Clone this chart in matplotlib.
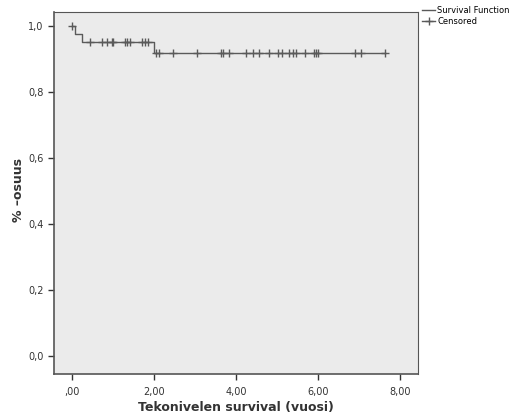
import matplotlib
matplotlib.use("Agg")
import matplotlib.pyplot as plt
from matplotlib.lines import Line2D
from matplotlib.ticker import FixedLocator

# Data
event_times = [0.0, 0.07, 0.25, 2.0]
survival = [1.0, 0.976, 0.952, 0.919]
end_time = 7.63
censor_times = [0.0, 0.44, 0.72, 0.85, 0.97, 1.0, 1.29, 1.34, 1.41, 1.70, 1.78, 1.86,
                2.05, 2.13, 2.46, 3.04, 3.63, 3.68, 3.84, 4.24, 4.42, 4.57, 4.81, 5.03,
                5.11, 5.30, 5.38, 5.46, 5.68, 5.90, 5.95, 6.01, 6.90, 7.04, 7.63]
x_ticks = [0, 2, 4, 6, 8]
x_ticklabels = [",00", "2,00", "4,00", "6,00", "8,00"]
y_ticks = [0.0, 0.2, 0.4, 0.6, 0.8, 1.0]
y_ticklabels = ["0,0", "0,2", "0,4", "0,6", "0,8", "1,0"]

def surv_at(t):
    s = survival[0]
    for et, sv in zip(event_times, survival):
        if t >= et:
            s = sv
    return s

fig = plt.figure(figsize=(5.16, 4.16), dpi=100)
ax = fig.add_axes([54/516, 1-374/416, (418-54)/516, (374-12)/416])
ax.set_facecolor("#ebebeb")

col = "#5a5a5a"
xs = event_times + [end_time]
ys = survival + [survival[-1]]
ax.step(xs, ys, where="post", color=col, lw=1.0)
ax.plot(censor_times, [surv_at(t) for t in censor_times], linestyle="none",
        marker="+", markersize=6, mew=1.0, color=col)

ax.set_xlim(-0.44, 8.44)
ax.set_ylim(-0.055, 1.042)
ax.xaxis.set_major_locator(FixedLocator(x_ticks))
ax.set_xticklabels(x_ticklabels)
ax.yaxis.set_major_locator(FixedLocator(y_ticks))
ax.set_yticklabels(y_ticklabels)
ax.tick_params(labelsize=7, colors="#333333", length=4, width=1, direction="out")
ax.tick_params(axis="x", pad=5)
for s in ["top", "right"]:
    ax.spines[s].set_color("#555555")
    ax.spines[s].set_linewidth(0.8)
for s in ["left", "bottom"]:
    ax.spines[s].set_color("#555555")
    ax.spines[s].set_linewidth(1.2)

ax.set_xlabel("Tekonivelen survival (vuosi)", fontsize=9, fontweight="bold", color="#333333")
ax.set_ylabel("% –osuus", fontsize=9, fontweight="bold", color="#333333")
ax.yaxis.set_label_coords(-0.080, 0.508)
ax.xaxis.set_label_coords(0.5, -0.075)

handles = [Line2D([0], [0], color=col, lw=1.0, drawstyle="steps-post"),
           Line2D([0], [0], color=col, lw=1.0, marker="+", markersize=6)]
leg = fig.legend(handles, ["Survival Function", "Censored"], loc="upper left",
                 bbox_to_anchor=(419/516, 1-3/416), frameon=False, fontsize=6,
                 handlelength=1.5, handletextpad=0.3, labelspacing=0.2, borderaxespad=0)

fig.savefig("out.png", dpi=100, facecolor="white")
